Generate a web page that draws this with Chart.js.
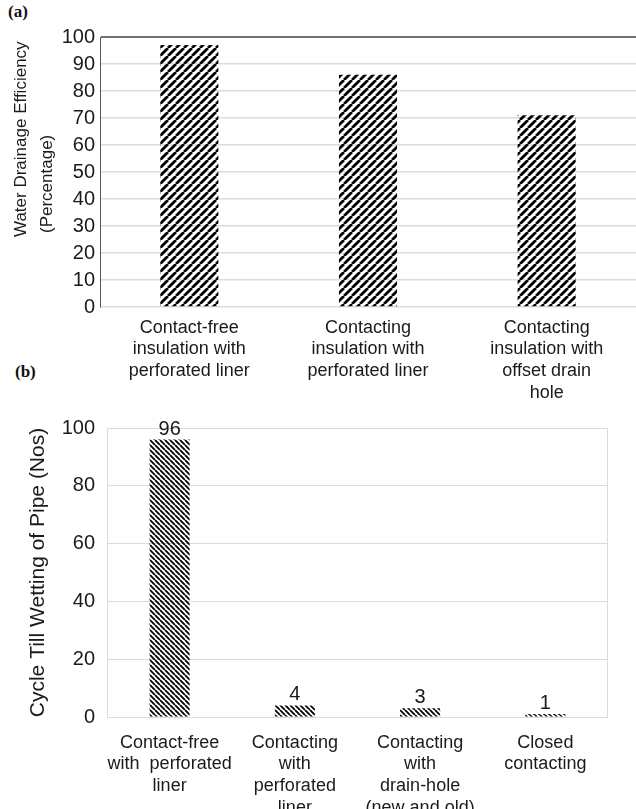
<!DOCTYPE html>
<html>
<head>
<meta charset="utf-8">
<script src="https://cdn.jsdelivr.net/npm/chart.js@4.4.1/dist/chart.umd.min.js"></script>
<style>
    html, body { margin: 0; padding: 0; background: #fff; width: 636px; height: 809px; overflow: hidden; }
    canvas { position: absolute; left: 0; }
    .tag { position: absolute; font: bold 17px "Liberation Serif", serif; color: #111; }
</style>
</head>
<body>
<div class="tag" style="left:8px; top:2px;">(a)</div>
<div class="tag" style="left:15px; top:362px;">(b)</div>
<canvas id="drain" width="636" height="412" style="top:0"></canvas>
<canvas id="cycles" width="636" height="449" style="top:360px"></canvas>
<script>
// (a) water drainage efficiency
const drainLabels = [
    ["Contact-free", "insulation with", "perforated liner"],
    ["Contacting", "insulation with", "perforated liner"],
    ["Contacting", "insulation with", "offset drain", "hole"]
];
const drainEfficiency = [97, 86, 71];

// (b) cycles until the pipe got wet
const cycleLabels = [
    ["Contact-free", "with  perforated", "liner"],
    ["Contacting", "with", "perforated", "liner"],
    ["Contacting", "with", "drain-hole", "(new and old)"],
    ["Closed", "contacting"]
];
const cyclesTillWetting = [96, 4, 3, 1];

const FONT = '"Liberation Sans", Arial, sans-serif';
const INK = '#1a1a1a';

// diagonal hatch fill, dir 1 = "/", dir -1 = "\"
function hatch(size, width, dir) {
    const c = document.createElement('canvas');
    c.width = c.height = size;
    const g = c.getContext('2d');
    g.strokeStyle = '#000';
    g.lineWidth = width;
    g.beginPath();
    for (let k = -1; k <= 1; k++) {
        if (dir > 0) { g.moveTo(k * size, size); g.lineTo(k * size + size, 0); }
        else { g.moveTo(k * size, 0); g.lineTo(k * size + size, size); }
    }
    g.stroke();
    return g.createPattern(c, 'repeat');
}

// fixes the axis box so the plot area lands where the figure has it
const fixWidth = w => scale => { scale.width = w; };
const fixHeight = h => scale => { scale.height = h; };

const sideTitle = {
    id: 'sideTitle',
    afterDraw(chart, args, opts) {
        if (!opts.lines) return;
        const ctx = chart.ctx;
        ctx.save();
        ctx.font = opts.font;
        ctx.fillStyle = INK;
        ctx.textAlign = 'left';
        ctx.textBaseline = 'middle';
        opts.lines.forEach(l => {
            ctx.save();
            ctx.translate(l.x, l.start);
            ctx.rotate(-Math.PI / 2);
            ctx.fillText(l.text, 0, 0);
            ctx.restore();
        });
        ctx.restore();
    }
};

const valueLabels = {
    id: 'valueLabels',
    afterDatasetsDraw(chart, args, opts) {
        if (!opts.show) return;
        const ctx = chart.ctx;
        const values = chart.data.datasets[0].data;
        ctx.save();
        ctx.font = '20px ' + FONT;
        ctx.fillStyle = INK;
        ctx.textAlign = 'center';
        ctx.textBaseline = 'alphabetic';
        chart.getDatasetMeta(0).data.forEach((bar, i) => {
            ctx.fillText(values[i], bar.x, bar.y - 5);
        });
        ctx.restore();
    }
};

const frame = {
    id: 'frame',
    beforeDatasetsDraw(chart, args, opts) {
        if (!opts.color) return;
        const a = chart.chartArea;
        const ctx = chart.ctx;
        ctx.save();
        ctx.strokeStyle = opts.color;
        ctx.lineWidth = 1;
        ctx.strokeRect(a.left + 0.5, a.top + 0.5, a.right - a.left - 1, a.bottom - a.top);
        ctx.restore();
    }
};

new Chart(document.getElementById('drain'), {
    type: 'bar',
    data: {
        labels: drainLabels,
        datasets: [{
            data: drainEfficiency,
            backgroundColor: hatch(8, 2.8, 1),
            barPercentage: 0.325,
            categoryPercentage: 1
        }]
    },
    options: {
        responsive: false,
        animation: false,
        devicePixelRatio: 1,
        layout: { padding: { top: 37, right: 0, left: 0, bottom: 0 } },
        plugins: {
            legend: { display: false },
            tooltip: { enabled: false },
            sideTitle: {
                font: '17px ' + FONT,
                lines: [
                    { text: 'Water Drainage Efficiency', x: 21, start: 237 },
                    { text: '(Percentage)', x: 47, start: 233 }
                ]
            }
        },
        scales: {
            x: {
                afterFit: fixHeight(105),
                grid: { display: false },
                border: { display: false },
                ticks: { color: INK, padding: 2, maxRotation: 0, autoSkip: false,
                         font: { family: FONT, size: 18, lineHeight: 1.2 } }
            },
            y: {
                min: 0,
                max: 100,
                afterFit: fixWidth(100),
                grid: {
                    drawTicks: false,
                    color: c => c.tick.value === 100 ? '#707070' : '#dcdcdc',
                    lineWidth: c => c.tick.value === 100 ? 2 : 1.5
                },
                border: { display: true, color: '#555', width: 1 },
                ticks: { stepSize: 10, color: INK, padding: 5, font: { family: FONT, size: 20 } }
            }
        }
    },
    plugins: [sideTitle]
});

new Chart(document.getElementById('cycles'), {
    type: 'bar',
    data: {
        labels: cycleLabels,
        datasets: [{
            data: cyclesTillWetting,
            backgroundColor: hatch(5, 1.8, -1),
            barPercentage: 0.32,
            categoryPercentage: 1
        }]
    },
    options: {
        responsive: false,
        animation: false,
        devicePixelRatio: 1,
        layout: { padding: { top: 68, right: 28, left: 0, bottom: 0 } },
        plugins: {
            legend: { display: false },
            tooltip: { enabled: false },
            valueLabels: { show: true },
            frame: { color: '#dcdcdc' }
        },
        scales: {
            x: {
                afterFit: fixHeight(92),
                grid: { display: false },
                border: { display: false },
                ticks: { color: INK, padding: 7, maxRotation: 0, autoSkip: false,
                         font: { family: FONT, size: 18, lineHeight: 1.2 } }
            },
            y: {
                min: 0,
                max: 100,
                afterFit: fixWidth(107),
                grid: { drawTicks: false, color: '#dcdcdc', lineWidth: 1 },
                border: { display: true, color: '#dcdcdc', width: 1 },
                ticks: { stepSize: 20, color: INK, padding: 12, font: { family: FONT, size: 20 } },
                title: {
                    display: true,
                    text: 'Cycle Till Wetting of Pipe (Nos)',
                    color: INK,
                    padding: { top: 26, bottom: 0 },
                    font: { family: FONT, size: 21, lineHeight: 1.2 }
                }
            }
        }
    },
    plugins: [valueLabels, frame]
});
</script>
</body>
</html>
